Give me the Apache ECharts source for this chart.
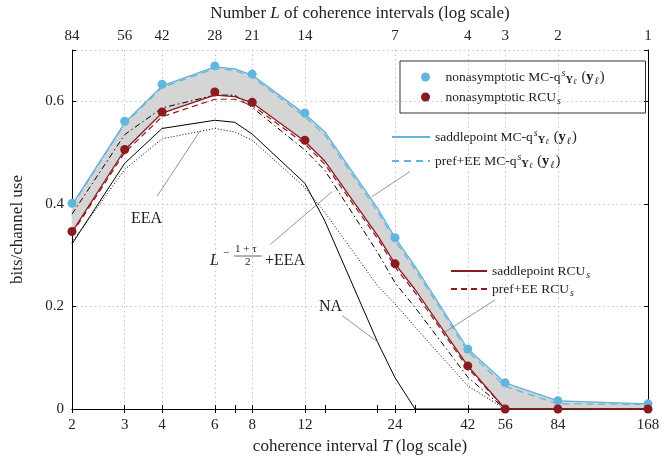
<!DOCTYPE html>
<html>
<head>
<meta charset="utf-8">
<script src="https://cdn.jsdelivr.net/npm/echarts@6/dist/echarts.min.js"></script>
<style>
  html, body { margin: 0; padding: 0; background: #fff; }
  #chart { width: 664px; height: 457px; }
</style>
</head>
<body>
<div id="chart"></div>
<script>
// coherence interval T: every evaluated point, and the labelled ones
const T_ALL = [2, 3, 4, 6, 7, 8, 12, 14, 21, 24, 28, 42, 56, 84, 168];
const T_MARK = [2, 3, 4, 6, 8, 12, 24, 42, 56, 84, 168];
const N_TOTAL = 168; // L = N_TOTAL / T

// nonasymptotic bounds (markers), at T_MARK
const mcNonasym = [0.401, 0.561, 0.633, 0.669, 0.653, 0.577, 0.334, 0.117, 0.051, 0.016, 0.010];
const rcuNonasym = [0.346, 0.506, 0.579, 0.618, 0.598, 0.524, 0.283, 0.084, 0, 0, 0];

// approximations (curves), at T_ALL
const mcSaddle = [0.398, 0.558, 0.630, 0.667, 0.663, 0.651, 0.575, 0.540, 0.391, 0.334, 0.278, 0.117, 0.051, 0.016, 0.010];
const mcPref = [0.396, 0.556, 0.627, 0.664, 0.660, 0.647, 0.570, 0.534, 0.385, 0.328, 0.272, 0.112, 0.044, 0.010, 0.009];
const rcuSaddle = [0.345, 0.505, 0.577, 0.612, 0.609, 0.597, 0.522, 0.483, 0.338, 0.283, 0.233, 0.084, 0, 0, 0];
const rcuPref = [0.342, 0.500, 0.570, 0.604, 0.604, 0.592, 0.517, 0.477, 0.332, 0.277, 0.227, 0.080, 0, 0, 0];
const lEea = [0.380, 0.535, 0.587, 0.612, 0.612, 0.588, 0.505, 0.465, 0.305, 0.246, 0.198, 0.062, 0, 0, 0];
const eea = [0.325, 0.467, 0.527, 0.547, 0.540, 0.524, 0.432, 0.383, 0.240, 0.205, 0.160, 0.045, 0, 0, 0];
const na = [0.322, 0.479, 0.547, 0.563, 0.559, 0.536, 0.440, 0.366, 0.130, 0.061, 0, 0, 0, 0, 0];

// pointer lines from the text labels to the curves, [T, bits]
const pointers = [
  [[3.85, 0.415], [5.35, 0.542]],
  [[9.2, 0.321], [14.8, 0.424]],
  [[16.0, 0.182], [21.2, 0.129]],
  [[26.9, 0.463], [20.1, 0.414]],
  [[51.9, 0.213], [35.0, 0.149]]
];

const FONT = "'Liberation Serif', 'DejaVu Serif', serif";
const BLUE = '#62b5de';
const RED = '#8c1b20';
const INK = '#222';
const FILL = '#d5d5d5';

const pairs = (xs, ys) => xs.map((x, i) => [x, ys[i]]);

const mcq = 'MC-q{sup|s}{subb|Y}{subsub|ℓ}{par|(}{b|y}{sub|ℓ}{par|)}';
const legendText = {
  nasMC: 'nonasymptotic ' + mcq,
  nasRCU: 'nonasymptotic RCU{sub|s}',
  spMC: 'saddlepoint ' + mcq,
  prefMC: 'pref+EE ' + mcq,
  spRCU: 'saddlepoint RCU{sub|s}',
  prefRCU: 'pref+EE RCU{sub|s}'
};
const rich = {
  sup: { fontFamily: FONT, fontSize: 10, fontStyle: 'italic', color: INK, verticalAlign: 'top', lineHeight: 10, padding: [0, 0, 0, 1] },
  sub: { fontFamily: FONT, fontSize: 10, fontStyle: 'italic', color: INK, verticalAlign: 'bottom', lineHeight: 10, padding: [0, 1, 0, 1] },
  subb: { fontFamily: FONT, fontSize: 10.5, fontWeight: 'bold', color: INK, verticalAlign: 'bottom', lineHeight: 10 },
  subsub: { fontFamily: FONT, fontSize: 8, fontStyle: 'italic', color: INK, verticalAlign: 'bottom', lineHeight: 6, padding: [0, 5, 0, 0] },
  par: { fontFamily: FONT, fontSize: 14.5, color: INK },
  b: { fontFamily: FONT, fontSize: 14.5, fontWeight: 'bold', color: INK }
};
const legendTextStyle = { fontFamily: FONT, fontSize: 13.5, color: INK, lineHeight: 18, rich: rich };

const TICK_FONT = { fontFamily: FONT, fontSize: 15, color: INK };
const NAME_FONT = {
  fontFamily: FONT, fontSize: 17, color: INK,
  rich: { i: { fontFamily: FONT, fontSize: 17, fontStyle: 'italic', color: INK } }
};

const logAxis = {
  type: 'log',
  logBase: 10,
  min: 2,
  max: 168,
  axisLine: { lineStyle: { color: '#000', width: 1 } },
  axisTick: { inside: true, length: 4, customValues: T_ALL, lineStyle: { color: '#000' } },
  splitLine: { show: false },
  minorTick: { show: false }
};

const chart = echarts.init(document.getElementById('chart'));
chart.setOption({
  animation: false,
  grid: { left: 72, right: 16, top: 50, bottom: 48, containLabel: false, outerBoundsMode: 'none' },
  xAxis: [
    Object.assign({}, logAxis, {
      position: 'bottom',
      axisLabel: Object.assign({ customValues: T_MARK, formatter: v => String(Math.round(v)), margin: 9 }, TICK_FONT),
      name: 'coherence interval {i|T} (log scale)',
      nameLocation: 'middle',
      nameGap: 23,
      nameTextStyle: NAME_FONT
    }),
    Object.assign({}, logAxis, {
      position: 'top',
      axisLabel: Object.assign({ customValues: T_MARK, formatter: v => String(Math.round(N_TOTAL / v)), margin: 6 }, TICK_FONT),
      name: 'Number {i|L} of coherence intervals (log scale)',
      nameLocation: 'middle',
      nameGap: 28,
      nameTextStyle: NAME_FONT
    }),
    // grid lines only at the labelled T values
    {
      type: 'log', logBase: 10, min: 2, max: 168, position: 'bottom',
      axisLine: { show: false },
      axisTick: { show: false, customValues: T_MARK },
      axisLabel: { show: false },
      splitLine: { show: true, lineStyle: { color: '#c4c4c4', type: [1.5, 3], width: 1 } }
    }
  ],
  yAxis: [
    {
      type: 'value', min: 0, max: 0.7, interval: 0.2, position: 'left',
      axisLine: { show: true, lineStyle: { color: '#000' } },
      axisTick: { show: true, inside: true, length: 4, lineStyle: { color: '#000' } },
      axisLabel: Object.assign({ formatter: v => (v > 0.65 ? '' : String(+v.toFixed(1))), margin: 8 }, TICK_FONT),
      splitLine: { show: true, lineStyle: { color: '#c4c4c4', type: [1.5, 3], width: 1 } },
      name: 'bits/channel use',
      nameLocation: 'middle',
      nameGap: 46,
      nameTextStyle: NAME_FONT
    },
    {
      type: 'value', min: 0, max: 0.7, interval: 0.2, position: 'right',
      axisLine: { show: true, lineStyle: { color: '#000' } },
      axisTick: { show: true, inside: true, length: 4, lineStyle: { color: '#000' } },
      axisLabel: { show: false },
      splitLine: { show: false }
    }
  ],
  legend: [
    {
      data: ['nasMC', 'nasRCU'], orient: 'vertical', left: 400, top: 61,
      padding: [7, 41, 7, 21], itemGap: 2, itemWidth: 30, itemHeight: 9,
      borderColor: '#333', borderWidth: 1, selectedMode: false,
      formatter: n => legendText[n], textStyle: legendTextStyle
    },
    {
      data: ['spMC', 'prefMC'], orient: 'vertical', left: 391, top: 128,
      padding: 0, itemGap: 6, itemWidth: 38, itemHeight: 14, selectedMode: false,
      itemStyle: { opacity: 0 },
      formatter: n => legendText[n], textStyle: legendTextStyle
    },
    {
      data: ['spRCU', 'prefRCU'], orient: 'vertical', left: 450, top: 262,
      padding: 0, itemGap: 0, itemWidth: 36, itemHeight: 14, selectedMode: false,
      itemStyle: { opacity: 0 },
      formatter: n => legendText[n], textStyle: legendTextStyle
    }
  ],
  graphic: [
    { type: 'text', left: 131, top: 211, z: 10, style: { text: 'EEA', font: '16px ' + FONT, fill: INK } },
    { type: 'text', left: 319, top: 299, z: 10, style: { text: 'NA', font: '16px ' + FONT, fill: INK } },
    {
      type: 'group', left: 210, top: 244, z: 10,
      children: [
        { type: 'text', x: 0, y: 9, style: { text: 'L', font: 'italic 16px ' + FONT, fill: INK } },
        { type: 'text', x: 13, y: 4, style: { text: '−', font: '11px ' + FONT, fill: INK } },
        { type: 'text', x: 25, y: 0, style: { text: '1 + τ', font: '11px ' + FONT, fill: INK } },
        { type: 'line', shape: { x1: 24, y1: 12, x2: 52, y2: 12 }, style: { stroke: INK, lineWidth: 0.7 } },
        { type: 'text', x: 35, y: 13, style: { text: '2', font: '11px ' + FONT, fill: INK } },
        { type: 'text', x: 55, y: 9, style: { text: '+EEA', font: '16px ' + FONT, fill: INK } }
      ]
    }
  ],
  series: [
    {
      // gray band between the saddlepoint MC and RCU curves
      name: 'band', type: 'custom', silent: true, z: 1,
      data: T_ALL.map((t, i) => [t, mcSaddle[i], rcuSaddle[i]]),
      encode: { x: 0, y: [1, 2] },
      renderItem: (params, api) => {
        const i = params.dataIndex;
        if (i >= T_ALL.length - 1) return null;
        const pts = [
          api.coord([T_ALL[i], mcSaddle[i]]),
          api.coord([T_ALL[i + 1], mcSaddle[i + 1]]),
          api.coord([T_ALL[i + 1], rcuSaddle[i + 1]]),
          api.coord([T_ALL[i], rcuSaddle[i]])
        ];
        return { type: 'polygon', shape: { points: pts }, style: { fill: FILL, stroke: FILL, lineWidth: 0.6 } };
      }
    },
    {
      name: 'EEA', type: 'line', data: pairs(T_ALL, eea), symbol: 'none',
      lineStyle: { color: '#000', width: 1, type: [1, 2] }, z: 3
    },
    {
      name: 'NA', type: 'line', data: pairs(T_ALL, na), symbol: 'none',
      lineStyle: { color: '#000', width: 1 }, z: 3,
      markLine: {
        silent: true, symbol: 'none', label: { show: false },
        lineStyle: { color: '#7a7a7a', width: 0.8, type: 'solid' },
        data: pointers.map(p => [{ coord: p[0] }, { coord: p[1] }])
      }
    },
    {
      name: 'LEEA', type: 'line', data: pairs(T_ALL, lEea), symbol: 'none',
      lineStyle: { color: '#000', width: 1, type: [6, 3, 1.5, 3] }, z: 3
    },
    {
      name: 'prefRCU', type: 'line', data: pairs(T_ALL, rcuPref), symbol: 'none',
      lineStyle: { color: RED, width: 1.2, type: [6, 4] }, itemStyle: { color: RED }, z: 4
    },
    {
      name: 'spRCU', type: 'line', data: pairs(T_ALL, rcuSaddle), symbol: 'none',
      lineStyle: { color: RED, width: 1.3 }, itemStyle: { color: RED }, z: 4
    },
    {
      name: 'prefMC', type: 'line', data: pairs(T_ALL, mcPref), symbol: 'none',
      lineStyle: { color: BLUE, width: 1.2, type: [7, 5] }, itemStyle: { color: BLUE }, z: 4
    },
    {
      name: 'spMC', type: 'line', data: pairs(T_ALL, mcSaddle), symbol: 'none',
      lineStyle: { color: BLUE, width: 1.3 }, itemStyle: { color: BLUE }, z: 4
    },
    {
      name: 'nasMC', type: 'scatter', data: pairs(T_MARK, mcNonasym), symbol: 'circle', symbolSize: 9,
      itemStyle: { color: BLUE, opacity: 1 }, clip: false, z: 5
    },
    {
      name: 'nasRCU', type: 'scatter', data: pairs(T_MARK, rcuNonasym), symbol: 'circle', symbolSize: 9,
      itemStyle: { color: RED, opacity: 1 }, clip: false, z: 5
    }
  ]
});
</script>
</body>
</html>
